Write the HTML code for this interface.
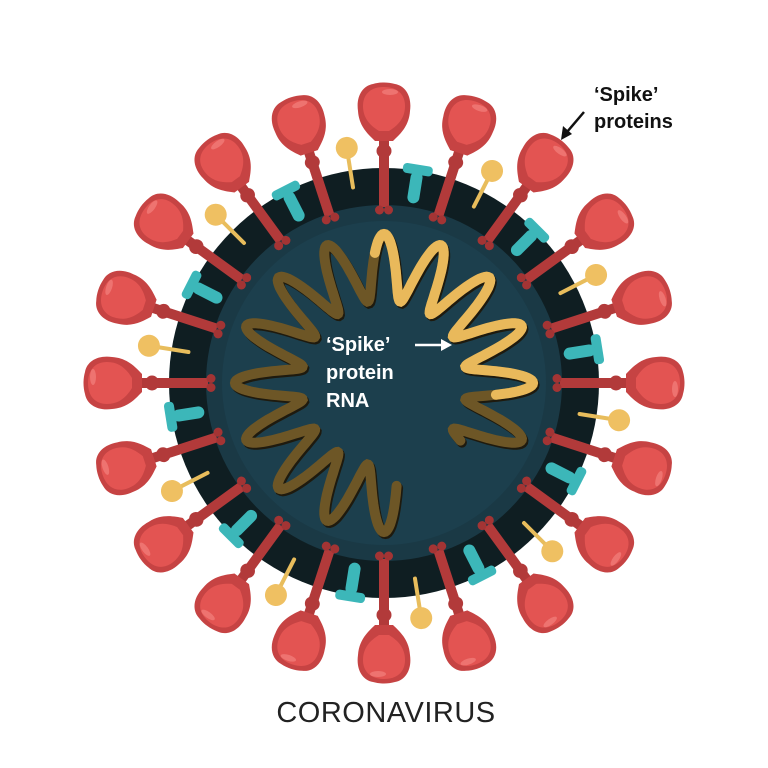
<!DOCTYPE html>
<html><head><meta charset="utf-8"><style>
html,body{margin:0;padding:0;background:#fff;}
svg{display:block;}
text{font-family:"Liberation Sans",sans-serif;}
</style></head><body>
<svg id="s" width="768" height="768" viewBox="0 0 768 768" xmlns="http://www.w3.org/2000/svg">
<defs>
<g id="spike">
  <path d="M-5,-176 L-5,-246 L5,-246 L5,-176 Z" fill="#b23a3a"/>
  <ellipse cx="0" cy="-232" rx="7.5" ry="7" fill="#b23a3a"/>
  <circle cx="-4.5" cy="-173" r="4.5" fill="#a33434"/>
  <circle cx="4.5" cy="-173" r="4.5" fill="#a33434"/>
  <path d="M-9,-242 C-15,-248 -25,-256 -26,-272 C-28,-286 -22,-297 -11,-299 C-4,-301 4,-301 11,-299 C22,-297 28,-286 26,-272 C25,-256 15,-248 9,-242 Z" fill="#c64343"/>
  <path d="M-5,-252 C-13,-257 -21,-264 -21,-277 C-21,-289 -13,-296 0,-296 C13,-296 21,-289 21,-277 C21,-264 13,-257 5,-252 Z" fill="#e35452"/>
  <ellipse cx="6" cy="-291" rx="8" ry="3" fill="#ee7370"/>
</g>
<g id="lolly">
  <rect x="-2" y="-232" width="4" height="36" rx="2" fill="#e8bd5c"/>
  <circle cx="0" cy="-238" r="11" fill="#efc062"/>
</g>
<g id="tee">
  <rect x="-15" y="-221" width="30" height="10" rx="4" fill="#3cb7b9"/>
  <rect x="-6" y="-214" width="12" height="32" rx="6" fill="#3cb7b9"/>
</g>
</defs>
<g transform="translate(384,383)" id="v">
  <circle r="215" fill="#0f1e22"/>
  <g id="tees"></g>
  <circle r="178" fill="#1a3945"/>
  <circle r="162" fill="#1c3f4d"/>
  <path id="rna1" fill="none" stroke="#1e1a0e" stroke-width="10" stroke-linecap="round" transform="translate(1.5,2)"/>
  <path id="rna" fill="none" stroke="#6d5626" stroke-width="10" stroke-linecap="round"/>
  <path id="rnah" fill="none" stroke="#e9b95b" stroke-width="10" stroke-linecap="round"/>
  <g id="lollies"></g>
  <g id="spikes"></g>
</g>
<text x="326" y="351" font-size="20" font-weight="bold" fill="#fff">‘Spike’</text>
<text x="326" y="379" font-size="20" font-weight="bold" fill="#fff">protein</text>
<text x="326" y="407" font-size="20" font-weight="bold" fill="#fff">RNA</text>
<line x1="415" y1="345" x2="443" y2="345" stroke="#fff" stroke-width="2.5"/>
<path d="M441,339 L452,345 L441,351 Z" fill="#fff"/>
<text x="594" y="101" font-size="20" font-weight="bold" fill="#111">‘Spike’</text>
<text x="594" y="128" font-size="20" font-weight="bold" fill="#111">proteins</text>
<line x1="584" y1="112" x2="567" y2="132" stroke="#111" stroke-width="2.5"/>
<path d="M561,140 L563,126 L572,134 Z" fill="#111"/>
<text x="386" y="722" font-size="29" fill="#222" text-anchor="middle" letter-spacing="0.5">CORONAVIRUS</text>
</svg>
<script>
var NS="http://www.w3.org/2000/svg";
function put(gid,ref,angles){var g=document.getElementById(gid);angles.forEach(function(a){var u=document.createElementNS(NS,"use");u.setAttribute("href","#"+ref);u.setAttribute("transform","rotate("+a+")");g.appendChild(u);});}
var sp=[],lo=[],te=[];for(var i=0;i<20;i++)sp.push(i*18);
for(var k=0;k<10;k++){lo.push(-9+36*k);te.push(9+36*k);}
put("tees","tee",te);
put("lollies","lolly",lo);
put("spikes","spike",sp);
function pts(a0,a1){var d="";var n=16;for(var t=a0;t<=a1;t+=0.5){var th=t*Math.PI/180;var r=116+33*Math.cos(n*th);var x=r*Math.sin(th),y=-r*Math.cos(th);d+=(d?"L":"M")+x.toFixed(1)+","+y.toFixed(1);}return d;}
var full=pts(-187,127);
document.getElementById("rna").setAttribute("d",full);
document.getElementById("rna1").setAttribute("d",full);
document.getElementById("rnah").setAttribute("d",pts(-4,96));
</script>
</body></html>
